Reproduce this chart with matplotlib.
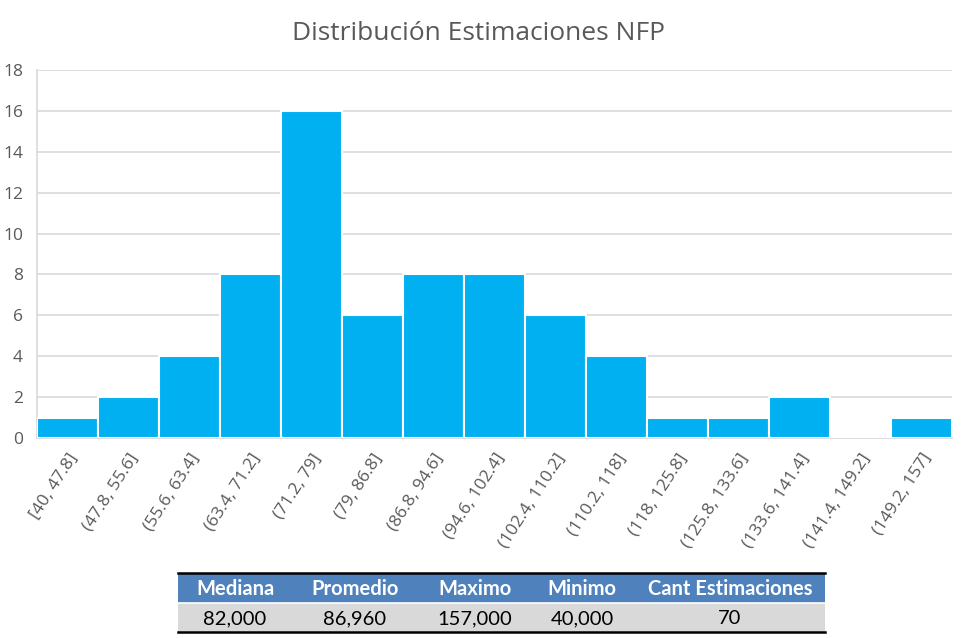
import matplotlib
matplotlib.use('Agg')
import matplotlib.pyplot as plt
from matplotlib.patches import Rectangle

# bins of NFP estimates (thousands) and how many forecasts fall in each
bin_labels = ['[40, 47.8]', '(47.8, 55.6]', '(55.6, 63.4]', '(63.4, 71.2]',
              '(71.2, 79]', '(79, 86.8]', '(86.8, 94.6]', '(94.6, 102.4]',
              '(102.4, 110.2]', '(110.2, 118]', '(118, 125.8]', '(125.8, 133.6]',
              '(133.6, 141.4]', '(141.4, 149.2]', '(149.2, 157]']
counts = [1, 2, 4, 8, 16, 6, 8, 8, 6, 4, 1, 1, 2, 0, 1]

stat_names = ['Mediana', 'Promedio', 'Maximo', 'Minimo', 'Cant Estimaciones']
stat_values = ['82,000', '86,960', '157,000', '40,000', '70']

BAR = '#00B0F0'
GRID = '#D9D9D9'
TXT = '#595959'
plt.rcParams['font.family'] = ['Open Sans', 'DejaVu Sans']

W, H = 975, 638
fig = plt.figure(figsize=(W / 100, H / 100), dpi=100)

ax = fig.add_axes([37 / W, 1 - 438 / H, (952 - 37) / W, (438 - 70) / H])
x = range(len(counts))
ax.bar(x, counts, width=1.0, color=BAR, edgecolor='white', linewidth=1.5, zorder=3)
ax.set_xlim(-0.5, len(counts) - 0.5)
ax.set_ylim(0, 18)
ax.set_yticks(range(0, 19, 2))
ax.set_xticks(list(x))
ax.set_xticklabels(bin_labels, rotation=57, ha='right', rotation_mode='anchor',
                   fontsize=12.5, color=TXT)
ax.tick_params(axis='y', labelsize=12.5, labelcolor=TXT, length=0, pad=10)
ax.tick_params(axis='x', length=0, pad=9)
ax.yaxis.grid(True, color=GRID, linewidth=1.2, zorder=0)
for side in ('top', 'right'):
    ax.spines[side].set_visible(False)
for side in ('left', 'bottom'):
    ax.spines[side].set_color(GRID)
    ax.spines[side].set_linewidth(1.2)

fig.text(478 / W, 1 - 33 / H, 'Distribución Estimaciones NFP', ha='center', va='center',
         fontsize=19, color=TXT)

# summary table under the chart
tab = fig.add_axes([0, 0, 1, 1])
tab.set_xlim(0, W)
tab.set_ylim(H, 0)
tab.axis('off')
col_edges = [178, 293, 415, 535, 630, 825]
top, mid, bot = 573, 603, 632
tab.add_patch(Rectangle((col_edges[0], top), col_edges[-1] - col_edges[0], mid - top,
                        facecolor='#4F81BD', edgecolor='none'))
tab.add_patch(Rectangle((col_edges[0], mid), col_edges[-1] - col_edges[0], bot - mid,
                        facecolor='#D9D9D9', edgecolor='none'))
tab.plot([col_edges[0], col_edges[-1]], [top, top], color='black', lw=1.8)
tab.plot([col_edges[0], col_edges[-1]], [mid, mid], color='white', lw=1.2)
tab.plot([col_edges[0], col_edges[-1]], [bot, bot], color='black', lw=1.8)
centers = [235, 355, 475, 582, 730]
for cx, name, val in zip(centers, stat_names, stat_values):
    tab.text(cx, (top + mid) / 2 + 1, name, ha='center', va='center', color='white',
             fontsize=14.5, fontweight='bold', family='Lato')
    tab.text(cx, (mid + bot) / 2 + 1, val, ha='center', va='center', color='black',
             fontsize=14.5, family='Lato')

fig.savefig('out.png', dpi=100, facecolor='white')
